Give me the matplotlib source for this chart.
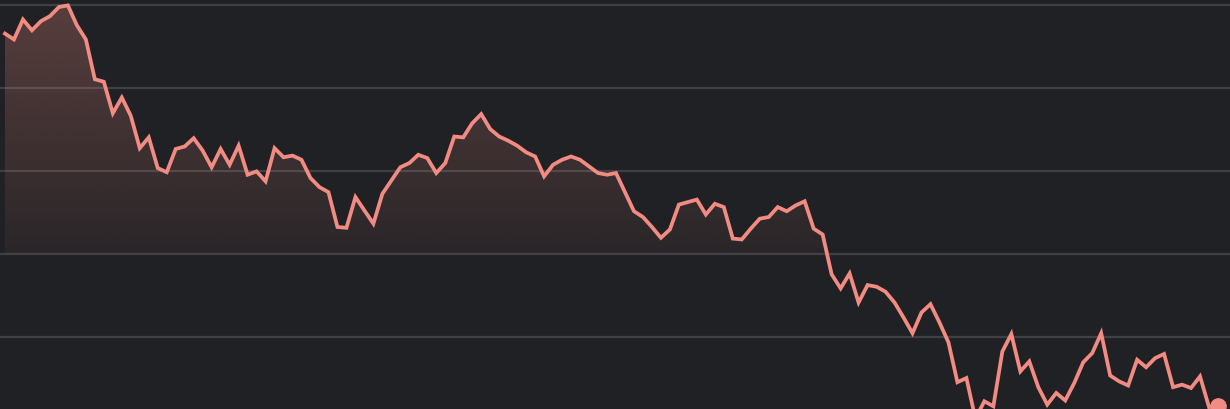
import numpy as np
import matplotlib
matplotlib.use("Agg")
import matplotlib.pyplot as plt
from matplotlib.path import Path

# price series (one value per step)
prices = [
    12.66, 12.59, 12.83, 12.70, 12.81, 12.87, 12.98, 13.00, 12.76, 12.59,
    12.11, 12.08, 11.70, 11.89, 11.67, 11.28, 11.41, 11.04, 10.99, 11.27,
    11.30, 11.40, 11.25, 11.05, 11.27, 11.08, 11.31, 10.96, 11.00, 10.88,
    11.28, 11.17, 11.19, 11.14, 10.92, 10.81, 10.75, 10.33, 10.32, 10.69,
    10.53, 10.37, 10.73, 10.89, 11.05, 11.10, 11.20, 11.16, 10.98, 11.10,
    11.42, 11.41, 11.58, 11.69, 11.51, 11.42, 11.37, 11.31, 11.23, 11.18,
    10.94, 11.08, 11.14, 11.18, 11.14, 11.06, 10.98, 10.96, 10.98, 10.75,
    10.52, 10.45, 10.33, 10.20, 10.30, 10.60, 10.63, 10.66, 10.48, 10.61,
    10.57, 10.19, 10.18, 10.31, 10.43, 10.45, 10.57, 10.52, 10.59, 10.64,
    10.31, 10.24, 9.76, 9.59, 9.77, 9.42, 9.63, 9.61, 9.55, 9.42,
    9.24, 9.05, 9.30, 9.40, 9.18, 8.94, 8.46, 8.51, 8.02, 8.23,
    8.17, 8.83, 9.04, 8.59, 8.71, 8.40, 8.19, 8.33, 8.24, 8.45,
    8.70, 8.81, 9.05, 8.54, 8.47, 8.42, 8.73, 8.64, 8.75, 8.80,
    8.40, 8.43, 8.39, 8.53, 8.16, 8.17,
]
prev_close = 10.0
grid_levels = [9, 10, 11, 12, 13]

BG = "#202124"
LINE = "#f28b82"
GRID = "#3e4043"

x = np.arange(len(prices))
y = np.array(prices)

fig = plt.figure(figsize=(12.3, 4.1), dpi=100, facecolor=BG)
ax = fig.add_axes([0, 0, 1, 1], facecolor=BG)

for lvl in grid_levels:
    ax.axhline(lvl, color=GRID, lw=1.6, zorder=1)

# gradient fill above the previous close
fill = ax.fill_between(x, y, prev_close, where=y >= prev_close, interpolate=True,
                       facecolor="none", edgecolor="none")
clip = Path.make_compound_path(*fill.get_paths())
top = y.max()
alpha = np.linspace(0.27, 0.05, 256)[:, None]
grad = np.zeros((256, 1, 4))
grad[..., :3] = matplotlib.colors.to_rgb(LINE)
grad[..., 3] = alpha
img = ax.imshow(grad, aspect="auto", extent=[x[0], x[-1], prev_close, top],
                origin="upper", zorder=2, interpolation="bilinear")
img.set_clip_path(clip, ax.transData)

ax.plot(x, y, color=LINE, lw=2.7, solid_joinstyle="miter", zorder=3)
ax.plot(x[-1], y[-1], "o", color=LINE, ms=11, zorder=4)

ax.set_xlim(-0.556, len(prices) - 1 + 1.336)
ax.set_ylim(8.137, 13.077)
ax.axis("off")

fig.savefig("out.png", dpi=100, facecolor=BG)
